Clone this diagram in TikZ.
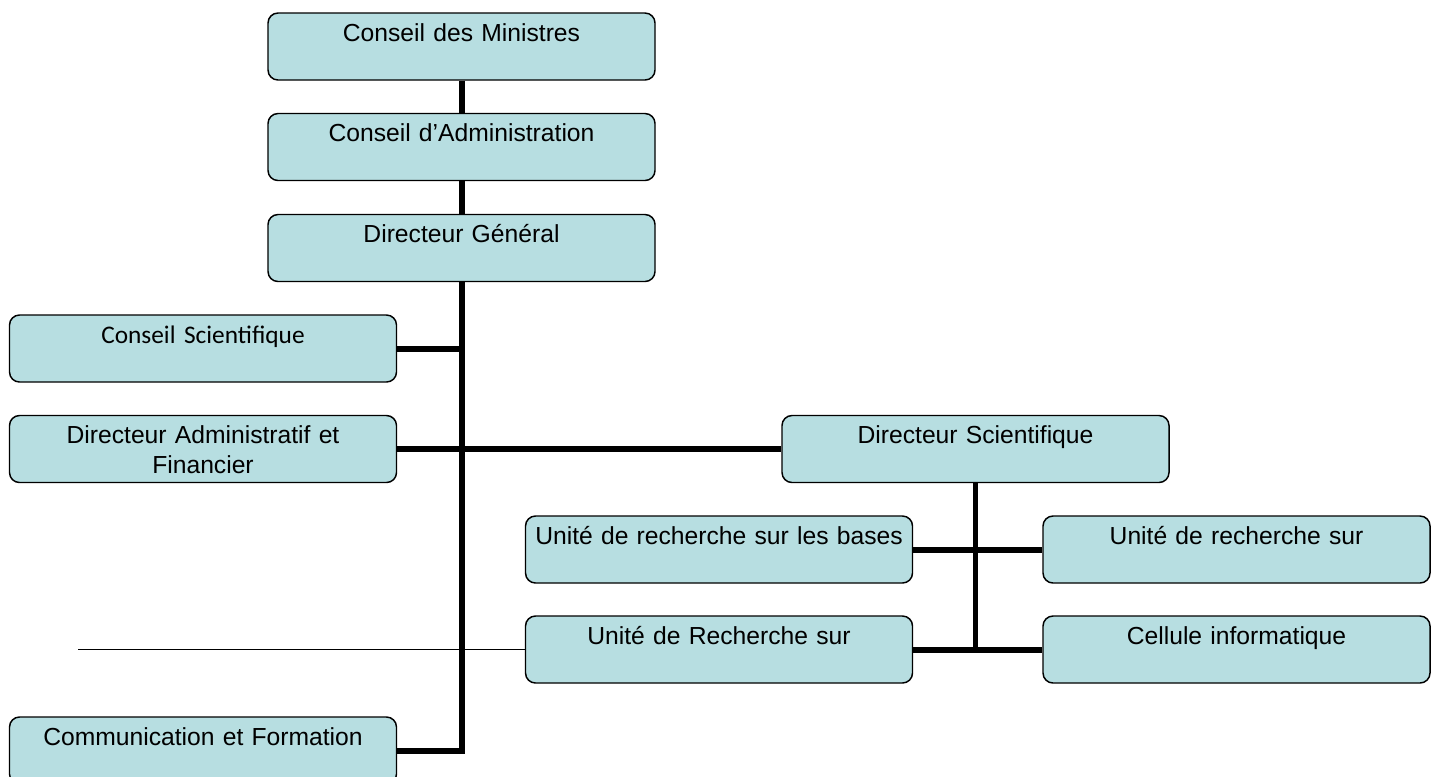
\documentclass[tikz,border=0pt]{standalone}
\usepackage{fontspec}
\setmainfont{Liberation Sans}
\newfontfamily\calfont{Carlito}
\definecolor{boxfill}{RGB}{183,222,225}
\begin{document}
\begin{tikzpicture}[x=0.75pt,y=-0.75pt,
  orgbox/.style={draw, line width=1.1pt, rounded corners=7.5pt, fill=boxfill,
    minimum width=290.25pt, minimum height=50.25pt, text width=290.25pt,
    align=center, inner sep=0pt, text height=21pt, text depth=29.25pt,
    font=\fontsize{18.5pt}{22.5pt}\selectfont},
  thickline/.style={line width=4.5pt, line join=miter, line cap=butt},
  midline/.style={line width=4pt, line cap=butt},
  thinline/.style={line width=1.2pt}]
\clip (0,0) rectangle (1434,776);
\fill[white] (0,0) rectangle (1434,776);
\node[orgbox] (CM) at (461.5,46.5) {Conseil des Ministres};
\node[orgbox] (CA) at (461.5,147) {Conseil d’Administration};
\node[orgbox] (DG) at (461.5,248) {Directeur Général};
\node[orgbox, font=\calfont\fontsize{19pt}{23pt}\selectfont] (CS) at (203,348.5) {Conseil Scientifique};
\node[orgbox] (DAF) at (203,449) {Directeur Administratif et\\Financier};
\node[orgbox] (DS) at (975.5,449) {Directeur Scientifique};
\node[orgbox] (U1) at (719,549.5) {Unité de recherche sur les bases};
\node[orgbox] (U2) at (1236.5,549.5) {Unité de recherche sur};
\node[orgbox] (U3) at (719,649.5) {Unité de Recherche sur};
\node[orgbox] (CI) at (1236.5,649.5) {Cellule informatique};
\node[orgbox] (CF) at (203,750.5) {Communication et Formation};
\coordinate (thinend) at (78,649.5);
\draw[thickline] (CM.south) -- (CA.north);
\draw[thickline] (CA.south) -- (DG.north);
\draw[thickline] (DG.south) |- (CF.east);
\draw[thickline] (CS.east) -- (CS.east -| DG.south);
\draw[thickline] (DAF.east) -- (DS.west);
\draw[midline] (DS.south) -- (DS.south |- CI.west);
\draw[thickline] (U1.east) -- (U2.west);
\draw[thickline] (U3.east) -- (CI.west);
\draw[thinline] (thinend) -- (U3.west);
\end{tikzpicture}
\end{document}
